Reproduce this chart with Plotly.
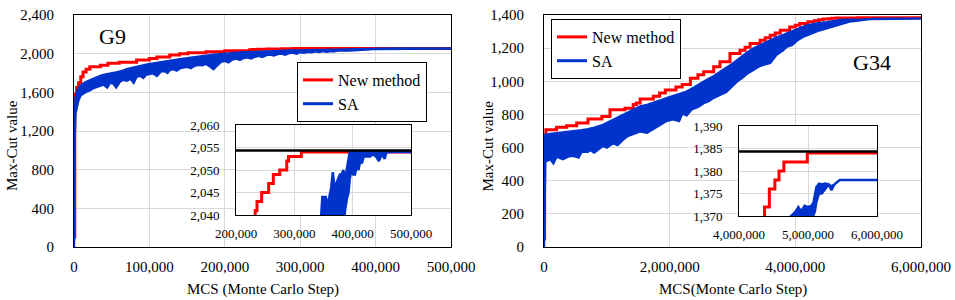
import plotly.graph_objects as go

FONT = "Times New Roman"
RED = "#FF0000"
BLUE = "#0033CC"
GRID = "#D9D9D9"

# ---------------- G9 (x in thousands of MCS) ----------------
g9_new_k = [0, 1, 2, 3.5, 6, 9, 12, 16, 21, 35, 45, 60, 83, 100, 110, 127, 140, 151, 175, 200,
            233, 236, 244, 256, 264, 275, 287, 290, 312, 500]
g9_new_y = [100, 1500, 1580, 1650, 1700, 1760, 1810, 1840, 1865, 1880, 1900, 1910, 1935, 1950, 1965,
            1985, 2000, 2010, 2020, 2030, 2041, 2043, 2045, 2047, 2049, 2050, 2052, 2053, 2054, 2054]

g9_sa_k = [0, 1, 2, 3.5, 6, 9, 13, 17, 21, 25, 30, 35, 39, 44, 48, 52, 56, 61, 65, 70, 75, 79, 83, 88,
           92, 96, 100, 105, 110, 115, 120, 124, 127, 132, 136, 141, 145, 150, 155, 160, 165, 170, 175,
           180, 185, 190, 195, 200, 205, 210, 215, 220, 225, 230, 235, 240, 245, 250, 255, 260, 265, 270,
           275, 280, 285, 290, 295, 300, 305, 310, 315, 320, 325, 330, 335, 340, 345,
           348, 351, 354, 357, 360, 363, 366, 369, 372, 375, 378, 381, 384, 387, 390, 393, 395, 398, 401,
           404, 407, 410, 413, 416, 419, 422, 425, 430, 435, 440, 445, 450, 455, 458, 500]
g9_sa_hi = [1200, 1450, 1540, 1600, 1640, 1670, 1695, 1710, 1725, 1740, 1755, 1770, 1779, 1790, 1795,
            1800, 1805, 1813, 1825, 1840, 1850, 1858, 1865, 1875, 1883, 1890, 1895, 1900, 1907, 1913,
            1918, 1924, 1928, 1935, 1940, 1945, 1948, 1952, 1958, 1965, 1970, 1975, 1980, 1985, 1990,
            1993, 1997, 2000, 2003, 2006, 2009, 2012, 2014, 2016, 2018, 2020, 2022, 2024, 2025, 2026,
            2027, 2028, 2029, 2030, 2031, 2032, 2033, 2034, 2034, 2035, 2035, 2036, 2036, 2037, 2037,
            2038, 2038,
            2044, 2044, 2044, 2042, 2044, 2046, 2049.5, 2046, 2047, 2048, 2049, 2049, 2050, 2048, 2050,
            2052, 2054, 2054, 2054, 2054, 2054, 2054, 2054, 2054, 2054, 2054, 2054, 2054, 2054, 2054,
            2054, 2054, 2054, 2054, 2054]
g9_sa_lo = [0, 1150, 1380, 1450, 1520, 1570, 1590, 1610, 1620, 1640, 1660, 1670, 1680, 1650, 1700,
            1690, 1650, 1710, 1730, 1720, 1740, 1700, 1760, 1770, 1750, 1785, 1790, 1796, 1770, 1815,
            1820, 1800, 1831, 1840, 1825, 1850, 1858, 1865, 1850, 1875, 1885, 1880, 1895, 1870, 1840,
            1880, 1915, 1925, 1910, 1940, 1950, 1935, 1955, 1962, 1950, 1968, 1978, 1965, 1985, 1990,
            1980, 1995, 2000, 1990, 2005, 2010, 2000, 2015, 2010, 2020, 2014, 2024, 2018, 2026, 2020,
            2028, 2025,
            2030, 2032, 2030, 2034, 2030, 2035, 2032, 2036, 2034, 2038, 2035, 2040, 2036, 2041, 2043.5,
            2045, 2048, 2050, 2049, 2049, 2051, 2050, 2052, 2051.5, 2053, 2053, 2053, 2053, 2053.5, 2053,
            2052, 2053.5, 2052.5, 2054, 2054]
G9_BEST = 2054

# ---------------- G34 (x in millions of MCS) ----------------
g34_new_m = [0, 0.01, 0.03, 0.2, 0.36, 0.52, 0.7, 0.92, 1.05, 1.29, 1.42, 1.47, 1.53, 1.74, 1.84, 1.93,
             2.1, 2.2, 2.33, 2.45, 2.54, 2.7, 2.8, 2.96, 3.12, 3.2, 3.28, 3.44, 3.52, 3.6, 3.68, 3.76,
             3.91, 4.0, 4.07, 4.2, 4.3, 4.37, 4.44, 4.52, 4.58, 4.65, 4.99, 6.0]
g34_new_y = [50, 640, 707, 723, 731, 748, 772, 788, 828, 838, 860, 869, 893, 909, 930, 948,
             965, 980, 1018, 1040, 1058, 1088, 1118, 1168, 1188, 1205, 1228, 1248, 1262, 1278, 1292, 1308,
             1328, 1338, 1348, 1360, 1366, 1372, 1376, 1378, 1380, 1382, 1384, 1384]

g34_sa_m = [0, 0.02, 0.1, 0.15, 0.2, 0.3, 0.4, 0.47, 0.55, 0.6, 0.7, 0.73, 0.8, 0.94, 1.0, 1.1, 1.17,
            1.25, 1.32, 1.42, 1.53, 1.64, 1.74, 1.85, 1.95, 2.05, 2.15, 2.2, 2.27, 2.35, 2.45, 2.54, 2.62,
            2.7, 2.8, 2.9, 2.98, 3.07, 3.15, 3.23, 3.33, 3.42, 3.5, 3.6, 3.7, 3.8, 3.86, 3.95, 4.04, 4.12,
            4.2, 4.3, 4.39, 4.5, 4.6, 4.72, 4.82, 4.86, 4.9, 4.95, 5.0, 5.05, 5.08, 5.1, 5.12, 5.16, 5.2,
            5.25, 5.3, 5.34, 5.38, 5.46, 6.0]
g34_sa_hi = [650, 677, 682, 684, 687, 690, 694, 697, 702, 705, 711, 713, 720, 737, 748, 768, 780,
             795, 808, 828, 848, 858, 869, 884, 899, 912, 925, 930, 938, 955, 978, 998, 1015,
             1030, 1058, 1082, 1100, 1128, 1150, 1172, 1198, 1215, 1230, 1248, 1265, 1278, 1288, 1300, 1316,
             1328, 1338, 1347, 1352, 1357, 1363, 1369.5, 1371, 1372, 1371, 1372.3, 1372, 1372.3, 1373, 1375,
             1376.4, 1377.2, 1377, 1377.2, 1377, 1376.6, 1377, 1378, 1378]
g34_sa_lo = [0, 515, 530, 505, 545, 530, 548, 550, 540, 575, 575, 586, 570, 610, 600, 626, 615,
             645, 667, 680, 697, 690, 715, 737, 760, 770, 760, 805, 795, 830, 845, 868, 880,
             900, 918, 935, 965, 998, 1020, 1045, 1068, 1090, 1100, 1110, 1160, 1185, 1208, 1220, 1250,
             1268, 1280, 1295, 1308, 1320, 1332, 1345, 1355, 1360, 1362, 1366, 1367, 1369, 1370, 1371,
             1373, 1375, 1375, 1376, 1377, 1375.7, 1377, 1378, 1378]
G34_BEST = 1384

G9_XRANGE, G9_YRANGE = [0, 500000], [0, 2400]
G34_XRANGE, G34_YRANGE = [0, 6000000], [0, 1400]


def band(x, hi, lo):
    return list(x) + list(x)[::-1], list(hi) + list(lo)[::-1]


g9_new_x = [v * 1000 for v in g9_new_k]
g9_sa_x = [v * 1000 for v in g9_sa_k]
g34_new_x = [v * 1e6 for v in g34_new_m]
g34_sa_x = [v * 1e6 for v in g34_sa_m]

fig = go.Figure()

panels = [
    (g9_new_x, g9_new_y, g9_sa_x, g9_sa_hi, g9_sa_lo, ("x", "y"), ("x3", "y3"), "legend"),
    (g34_new_x, g34_new_y, g34_sa_x, g34_sa_hi, g34_sa_lo, ("x2", "y2"), ("x4", "y4"), "legend2"),
]

for nx, ny, sx, hi, lo, main, ins, leg in panels:
    bx, by = band(sx, hi, lo)
    for xa, ya in (main, ins):
        fig.add_trace(go.Scatter(x=nx, y=ny, mode="lines", name="New method",
                                 line=dict(color=RED, width=3, shape="hv"),
                                 xaxis=xa, yaxis=ya, showlegend=False, hoverinfo="skip"))
        fig.add_trace(go.Scatter(x=bx, y=by, mode="lines", fill="toself", fillcolor=BLUE,
                                 line=dict(color=BLUE, width=2.4), name="SA",
                                 xaxis=xa, yaxis=ya, showlegend=False, hoverinfo="skip"))
    fig.add_trace(go.Scatter(x=[None], y=[None], mode="lines", name="New method",
                             line=dict(color=RED, width=3), xaxis=main[0], yaxis=main[1],
                             legend=leg))
    fig.add_trace(go.Scatter(x=[None], y=[None], mode="lines", name="SA",
                             line=dict(color=BLUE, width=3), xaxis=main[0], yaxis=main[1],
                             legend=leg))

W, H = 955, 300


def xd(a, b):
    return [a / W, b / W]


def yd(top, bottom):
    return [1 - bottom / H, 1 - top / H]


ax_common = dict(showgrid=True, gridcolor=GRID, gridwidth=1, showline=True, linecolor="black",
                 linewidth=1, mirror=True, zeroline=False, ticks="", automargin=False,
                 tickformat=",", tickfont=dict(family=FONT, size=15, color="black"))
inset_common = dict(ax_common, tickfont=dict(family=FONT, size=13, color="black"))

fig.update_layout(
    template="none",
    width=W, height=H, margin=dict(l=0, r=0, t=0, b=0, pad=0, autoexpand=False),
    paper_bgcolor="white", plot_bgcolor="white",
    font=dict(family=FONT, color="black"),
    xaxis=dict(ax_common, domain=xd(74, 451), anchor="y", range=G9_XRANGE, dtick=100000,
               ticklabelstandoff=6),
    yaxis=dict(ax_common, domain=yd(15, 247), anchor="x", range=G9_YRANGE, dtick=400,
               ticklabelstandoff=16),
    xaxis2=dict(ax_common, domain=xd(544, 921), anchor="y2", range=G34_XRANGE, dtick=2000000,
                ticklabelstandoff=6),
    yaxis2=dict(ax_common, domain=yd(15, 247), anchor="x2", range=G34_YRANGE, dtick=200,
                ticklabelstandoff=16),
    xaxis3=dict(inset_common, domain=xd(236, 411), anchor="y3", range=[200000, 500000],
                dtick=100000, ticklabelstandoff=6),
    yaxis3=dict(inset_common, domain=yd(125, 215), anchor="x3", range=[2040, 2060], dtick=5,
                ticklabelstandoff=13),
    xaxis4=dict(inset_common, domain=xd(739, 877), anchor="y4", range=[4000000, 6000000],
                dtick=1000000, ticklabelstandoff=6),
    yaxis4=dict(inset_common, domain=yd(126, 216), anchor="x4", range=[1370, 1390], dtick=5,
                ticklabelstandoff=13),
    legend=dict(x=297 / W, y=1 - 62 / H, xanchor="left", yanchor="top", bgcolor="white",
                bordercolor="black", borderwidth=1,
                font=dict(family=FONT, size=16, color="black")),
    legend2=dict(x=551 / W, y=1 - 19 / H, xanchor="left", yanchor="top", bgcolor="white",
                 bordercolor="black", borderwidth=1,
                 font=dict(family=FONT, size=16, color="black")),
)


def px_to_data(rng, p0, p1, p):
    return rng[0] + (p - p0) / (p1 - p0) * (rng[1] - rng[0])


# white backing behind the insets (hides main gridlines), drawn under the traces
for xa, ya, xr, yr, xl, xrp, left, right in (
        ("x", "y", G9_XRANGE, G9_YRANGE, 74, 451, 190, 433),
        ("x2", "y2", G34_XRANGE, G34_YRANGE, 544, 921, 693, 915)):
    fig.add_shape(type="rect", xref=xa, yref=ya,
                  x0=px_to_data(xr, xl, xrp, left), x1=px_to_data(xr, xl, xrp, right),
                  y0=px_to_data(yr, 247, 15, 240), y1=px_to_data(yr, 247, 15, 118),
                  fillcolor="white", line=dict(width=0), layer="below")

# best-known cut value lines in the insets
for xa, ya, best in (("x3", "y3", G9_BEST), ("x4", "y4", G34_BEST)):
    fig.add_shape(type="line", xref=f"{xa} domain", x0=0, x1=1, yref=ya,
                  ysizemode="pixel", yanchor=best, y0=1.5, y1=1.5,
                  line=dict(color="black", width=2.5), layer="above")

ann = dict(showarrow=False, xref="paper", yref="paper", font=dict(family=FONT, color="black"))
fig.add_annotation(ann, x=112.5 / W, y=1 - 37 / H, text="G9", font_size=22,
                   xanchor="center", yanchor="middle")
fig.add_annotation(ann, x=872 / W, y=1 - 62 / H, text="G34", font_size=22,
                   xanchor="center", yanchor="middle")
fig.add_annotation(ann, x=262.5 / W, y=1 - 289 / H, text="MCS (Monte Carlo Step)", font_size=15,
                   xanchor="center", yanchor="middle")
fig.add_annotation(ann, x=732.5 / W, y=1 - 289 / H, text="MCS(Monte Carlo Step)", font_size=15,
                   xanchor="center", yanchor="middle")
fig.add_annotation(ann, x=12 / W, y=1 - 146 / H, text="Max-Cut value", font_size=15,
                   textangle=-90, xanchor="center", yanchor="middle")
fig.add_annotation(ann, x=487.5 / W, y=1 - 146 / H, text="Max-Cut value", font_size=15,
                   textangle=-90, xanchor="center", yanchor="middle")

# remove the browser's default 8px body margin so the figure sits at the page origin
fig.write_html("out.html", config={"displayModeBar": False},
               post_script="document.body.style.margin='0';document.body.style.padding='0';")
